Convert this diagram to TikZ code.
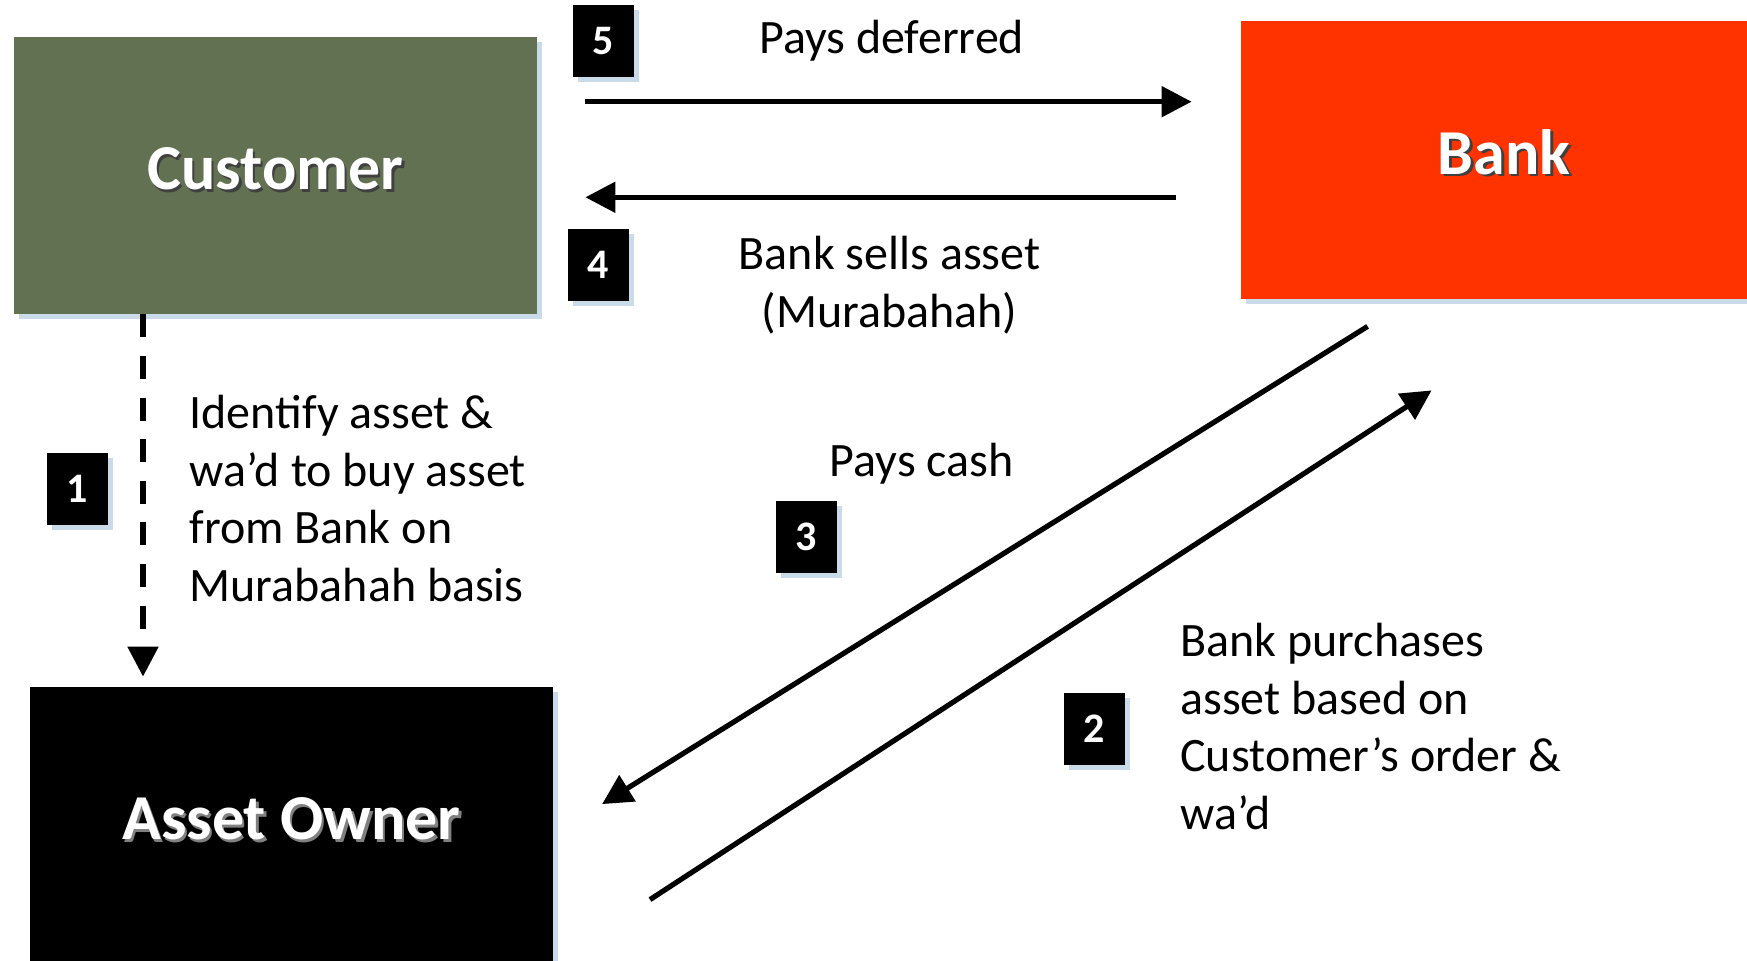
\documentclass[tikz,border=0pt]{standalone}
\usepackage{fontspec}
\setmainfont{Carlito}
\usetikzlibrary{arrows.meta,calc,shadows}
\definecolor{custgreen}{RGB}{99,113,83}
\definecolor{bankred}{RGB}{255,51,0}
\definecolor{shadowblue}{RGB}{201,219,232}
\newcommand\shtext[2]{\makebox[0pt][l]{\kern1.2pt\raisebox{-1.2pt}{\textcolor{#2}{#1}}}#1}
\begin{document}
\begin{tikzpicture}[x=0.5pt,y=-0.5pt,
  boxshadow/.style={drop shadow={shadow xshift=2.5pt, shadow yshift=-2.5pt, fill=shadowblue, opacity=1}},
  party/.style={rectangle, inner sep=0pt, text=white, boxshadow,
    font=\fontsize{32}{36}\selectfont\bfseries, text height=14.5pt, text depth=0pt},
  badge/.style={rectangle, fill=black, inner sep=0pt, minimum width=30.5pt, minimum height=36pt,
    text=white, font=\fontsize{21}{24}\selectfont\bfseries, boxshadow},
  lbl/.style={inner sep=0pt, font=\fontsize{24}{28.8}\selectfont, text=black},
  arr/.style={line width=2.6pt, -{Triangle[length=15pt,width=15pt]}},
  dasharr/.style={arr, dash pattern=on 11.5pt off 9.3pt}
]
\useasboundingbox (0,0) rectangle (1747,961);

% parties
\node[party, fill=custgreen, minimum width=261.5pt, minimum height=138.5pt] (cust) at (275.5,175.5) {\shtext{Customer}{black!75}};
\node[party, fill=bankred, minimum width=263pt, minimum height=139pt] (bank) at (1504,160) {\shtext{Bank}{black!75}};
\node[party, fill=black, minimum width=261.5pt, minimum height=138.5pt] (owner) at (291.5,825.5) {\shtext{Asset Owner}{gray}};

% badges
\node[badge] (b1) at (77.2,488.8) {1};
\node[badge] (b2) at (1094.5,729) {2};
\node[badge] (b3) at (806.5,537) {3};
\node[badge] (b4) at (598,265) {4};
\node[badge] (b5) at (603.5,41) {5};

% labels (base anchor = baseline of last line)
\node[lbl, anchor=base] (t5) at (891.7,54) {Pays deferred};
\node[lbl, anchor=base, align=center] (t4) at (889.6,327.5) {Bank sells asset\\(Murabahah)};
\node[lbl, anchor=base] (t3) at (921.7,477) {Pays cash};
\node[lbl, anchor=base west, align=left] (t1) at (189.2,601.5) {Identify asset \&\\wa’d to buy asset\\from Bank on\\Murabahah basis};
\node[lbl, anchor=base west, align=left] (t2) at (1180,829.5) {Bank purchases\\asset based on\\Customer’s order \&\\wa’d};

% connectors
\draw[dasharr] (cust.south -| 143,0) -- ($(owner.north -| 143,0)+(0,-10)$);
\draw[arr] ($(cust.east |- 0,101.7)+(48,0)$) -- ($(bank.west |- 0,101.7)+(-49,0)$);
\draw[arr] ($(bank.west |- 0,197.3)+(-64.4,0)$) -- ($(cust.east |- 0,197.3)+(48,0)$);
\draw[arr] ($(bank.south west)+(127,27)$) -- ($(owner.north east)+(48.7,117.5)$);
\draw[arr] ($(owner.north east)+(96.6,213)$) -- ($(bank.south west)+(191,91)$);
\end{tikzpicture}
\end{document}
